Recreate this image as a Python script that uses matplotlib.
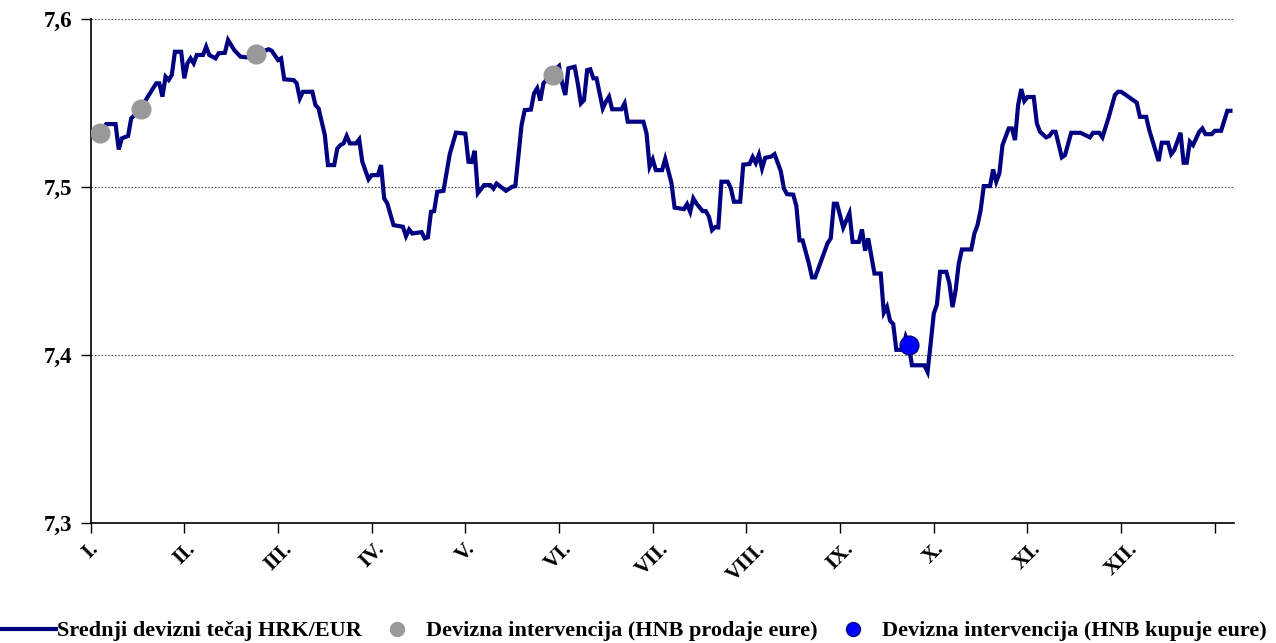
import matplotlib
matplotlib.use("Agg")
import matplotlib.pyplot as plt
from matplotlib.lines import Line2D

# ---- data (day index within year, rate HRK/EUR) ----
days = [0, 3, 5, 8, 9, 10, 12, 13, 16, 18, 19, 21, 22, 23, 24, 25, 26, 27, 29, 30,
        31, 32, 33, 34, 36, 37, 38, 39, 40, 41, 43, 44, 46, 48, 50, 53, 57, 58, 60, 61,
        62, 65, 66, 67, 68, 71, 72, 73, 75, 76, 78, 79, 80, 81, 82, 83, 85, 86, 87, 89,
        90, 92, 93, 94, 95, 97, 100, 101, 102, 103, 106, 107, 108, 109, 110, 111, 113, 115, 117, 120,
        121, 122, 123, 124, 126, 128, 129, 130, 132, 133, 135, 136, 137, 138, 139, 141, 142, 143, 144, 145,
        147, 148, 150, 151, 152, 153, 155, 156, 157, 158, 159, 160, 161, 162, 164, 165, 166, 167, 170, 171,
        172, 177, 178, 179, 180, 181, 183, 184, 186, 187, 190, 191, 192, 193, 194, 196, 197, 198, 199, 200,
        201, 202, 204, 205, 206, 208, 209, 211, 212, 213, 214, 215, 216, 218, 219, 221, 222, 223, 225, 226,
        227, 228, 230, 231, 232, 234, 236, 237, 238, 239, 241, 243, 244, 246, 247, 248, 249, 251, 253, 254,
        255, 256, 257, 258, 260, 261, 262, 263, 267, 268, 269, 270, 271, 272, 274, 275, 276, 277, 278, 279,
        282, 283, 284, 285, 286, 288, 289, 290, 291, 292, 294, 295, 296, 297, 298, 299, 300, 302, 303, 304,
        306, 307, 308, 309, 311, 312, 314, 317, 320, 321, 323, 324, 326, 328, 329, 330, 332, 333, 335, 336,
        338, 339, 342, 343, 345, 346, 347, 349, 350, 351, 352, 353, 355, 356, 357, 359, 360, 362, 364, 365]
rate = [7.5304, 7.5323, 7.5375, 7.5375, 7.5224, 7.5290, 7.5304, 7.5409, 7.5463, 7.5528,
        7.5558, 7.5617, 7.5617, 7.5538, 7.5657, 7.5637, 7.5667, 7.5805, 7.5805, 7.5647,
        7.5736, 7.5766, 7.5736, 7.5786, 7.5786, 7.5835, 7.5786, 7.5776, 7.5766, 7.5796,
        7.5799, 7.5875, 7.5815, 7.5776, 7.5772, 7.5792, 7.5820, 7.5811, 7.5756, 7.5766,
        7.5641, 7.5637, 7.5617, 7.5528, 7.5567, 7.5567, 7.5488, 7.5468, 7.5310, 7.5131,
        7.5131, 7.5230, 7.5250, 7.5260, 7.5304, 7.5260, 7.5260, 7.5284, 7.5151, 7.5046,
        7.5071, 7.5071, 7.5131, 7.4933, 7.4903, 7.4774, 7.4764, 7.4708, 7.4748, 7.4724,
        7.4732, 7.4695, 7.4702, 7.4853, 7.4857, 7.4972, 7.4978, 7.5196, 7.5324, 7.5318,
        7.5151, 7.5149, 7.5216, 7.4964, 7.5012, 7.5012, 7.4991, 7.5021, 7.4992, 7.4978,
        7.5002, 7.5006, 7.5190, 7.5369, 7.5458, 7.5461, 7.5558, 7.5588, 7.5515, 7.5617,
        7.5661, 7.5685, 7.5720, 7.5617, 7.5548, 7.5707, 7.5716, 7.5617, 7.5498, 7.5518,
        7.5696, 7.5701, 7.5647, 7.5647, 7.5468, 7.5508, 7.5538, 7.5463, 7.5463, 7.5498,
        7.5389, 7.5389, 7.5321, 7.5122, 7.5165, 7.5101, 7.5101, 7.5168, 7.5024, 7.4878,
        7.4869, 7.4899, 7.4853, 7.4933, 7.4902, 7.4857, 7.4857, 7.4824, 7.4744, 7.4762,
        7.4760, 7.5032, 7.5032, 7.4994, 7.4913, 7.4913, 7.5134, 7.5137, 7.5179, 7.5143,
        7.5193, 7.5111, 7.5174, 7.5182, 7.5196, 7.5095, 7.4992, 7.4958, 7.4955, 7.4887,
        7.4683, 7.4683, 7.4546, 7.4463, 7.4463, 7.4565, 7.4667, 7.4695, 7.4901, 7.4901,
        7.4759, 7.4845, 7.4674, 7.4674, 7.4748, 7.4622, 7.4695, 7.4486, 7.4486, 7.4253,
        7.4288, 7.4205, 7.4186, 7.4032, 7.4032, 7.4109, 7.4060, 7.3940, 7.3940, 7.3901,
        7.4070, 7.4248, 7.4301, 7.4496, 7.4496, 7.4427, 7.4286, 7.4387, 7.4546, 7.4629,
        7.4629, 7.4724, 7.4774, 7.4863, 7.5006, 7.5006, 7.5105, 7.5032, 7.5082, 7.5250,
        7.5349, 7.5349, 7.5280, 7.5488, 7.5583, 7.5512, 7.5536, 7.5536, 7.5379, 7.5329,
        7.5296, 7.5304, 7.5329, 7.5329, 7.5177, 7.5190, 7.5323, 7.5323, 7.5296, 7.5323,
        7.5323, 7.5296, 7.5415, 7.5548, 7.5567, 7.5567, 7.5542, 7.5528, 7.5502, 7.5418,
        7.5418, 7.5339, 7.5155, 7.5264, 7.5264, 7.5196, 7.5220, 7.5323, 7.5145, 7.5145,
        7.5270, 7.5250, 7.5329, 7.5349, 7.5315, 7.5315, 7.5335, 7.5335, 7.5454, 7.5454]

sell_days = [3, 16, 53, 148]
sell_rate = [7.5323, 7.5463, 7.5792, 7.5667]
buy_days = [262]
buy_rate = [7.4060]

month_ticks = [0, 30, 60, 90, 120, 150, 180, 210, 240, 270, 300, 330, 360]
month_labels = ['I.', 'II.', 'III.', 'IV.', 'V.', 'VI.', 'VII.', 'VIII.', 'IX.', 'X.', 'XI.', 'XII.', '']
y_ticks = [7.3, 7.4, 7.5, 7.6]
y_labels = ['7,3', '7,4', '7,5', '7,6']

series_name = 'Srednji devizni tečaj HRK/EUR'
sell_name = 'Devizna intervencija (HNB prodaje eure)'
buy_name = 'Devizna intervencija (HNB kupuje eure)'

# ---- style ----
plt.rcParams['font.family'] = ['Liberation Serif', 'DejaVu Serif']
plt.rcParams['font.weight'] = 'bold'
LINE = '#000080'
GRAY = '#999999'
BLUE = '#0000FF'

fig = plt.figure(figsize=(12.76, 6.43), dpi=100)
ax = fig.add_axes([90.6 / 1276, 1 - 523.3 / 643, (1233.6 - 90.6) / 1276, (523.3 - 19) / 643])

ax.plot(days, rate, color=LINE, lw=3.0, solid_joinstyle='miter', zorder=3)
ax.plot(sell_days, sell_rate, 'o', color=GRAY, ms=13.5, mec=GRAY, zorder=4)
ax.plot(buy_days, buy_rate, 'o', color=BLUE, ms=13.5, mec=LINE, mew=1.0, zorder=4)

ax.set_xlim(0, 366)
ax.set_ylim(7.3, 7.6)
ax.set_yticks(y_ticks)
ax.set_yticklabels(y_labels, fontsize=16.5, fontweight='bold')
ax.set_xticks(month_ticks)
ax.set_xticklabels(month_labels, fontsize=15.5, fontweight='bold', rotation=45,
                   ha='center', va='top')
ax.tick_params(axis='y', direction='out', length=7, width=1, pad=6)
ax.tick_params(axis='x', direction='out', length=7, width=1, pad=4)
ax.yaxis.grid(True, linestyle=(0, (1.5, 1.5)), color='#555555', lw=0.8)
ax.set_axisbelow(True)
for s in ['top', 'right']:
    ax.spines[s].set_visible(False)
for s in ['left', 'bottom']:
    ax.spines[s].set_linewidth(1.2)
    ax.spines[s].set_color('black')

handles = [Line2D([], [], color=LINE, lw=3),
           Line2D([], [], marker='o', ls='', color=GRAY, mec=GRAY, ms=10),
           Line2D([], [], marker='o', ls='', color=BLUE, mec=LINE, ms=10)]
fig.legend(handles, [series_name, sell_name, buy_name], loc='center',
           bbox_to_anchor=(0.4965, 1 - 631 / 643), ncol=3, frameon=False,
           prop={'family': 'Liberation Serif', 'weight': 'bold', 'size': 16},
           handlelength=2.5, handletextpad=0.05, columnspacing=0.35,
           borderpad=0.0, borderaxespad=0.0)

fig.savefig('out.png', dpi=100)
